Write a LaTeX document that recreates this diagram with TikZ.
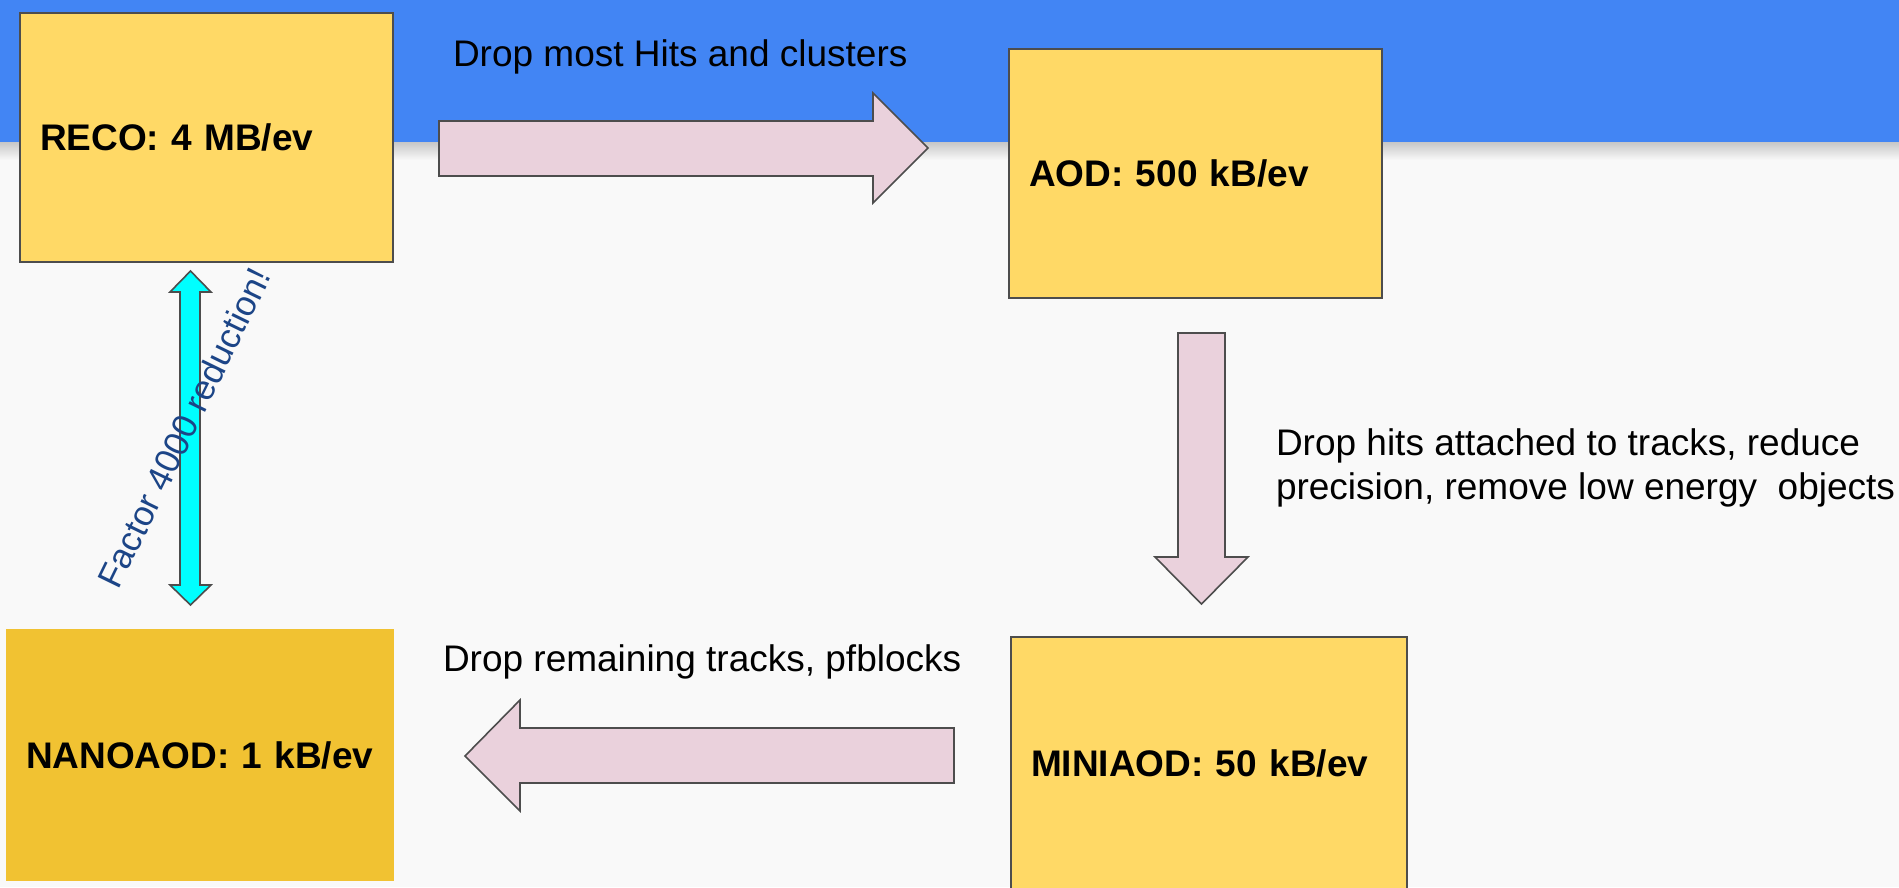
\documentclass[tikz,border=0pt]{standalone}
\usepackage{fontspec}
\setmainfont{Liberation Sans}
\definecolor{bandc}{HTML}{4285F4}
\definecolor{bgc}{HTML}{F9F9F9}
\definecolor{boxy}{HTML}{FFD966}
\definecolor{nanoy}{HTML}{F1C232}
\definecolor{pinkf}{HTML}{EAD1DC}
\definecolor{edgec}{HTML}{4D4D4D}
\definecolor{cyanf}{HTML}{00FFFF}
\definecolor{labblue}{HTML}{1C4587}
\begin{document}
\begin{tikzpicture}[x=1pt,y=-1pt,
  every node/.style={inner sep=0pt,outer sep=0pt},
  labtext/.style={font=\fontsize{37}{44}\selectfont,text=black},
  databox/.style={rectangle,fill=boxy,draw=edgec,line width=1.8pt,
    font=\fontsize{37}{44}\selectfont\bfseries,align=left,
    inner xsep=20pt,text height=26.5pt,text depth=0pt},
  blockarrow/.style={fill=pinkf,draw=edgec,line width=1.6pt,line join=miter},
  cyanarrow/.style={fill=cyanf,draw=edgec,line width=1.6pt,line join=miter}]
\useasboundingbox (0,0) rectangle (1899,887);
% background and title band
\fill[bgc] (0,0) rectangle (1899,887);
\fill[bandc] (0,0) rectangle (1899,142);
\shade[top color=black!22,bottom color=bgc] (0,142) rectangle (1899,160);
% boxes
\node[databox,minimum width=373pt,minimum height=249pt,text width=333pt] (reco) at (206.5,137.5) {RECO: 4 MB/ev};
\node[databox,minimum width=373pt,minimum height=249pt,text width=333pt] (aod) at (1195.5,173.5) {AOD: 500 kB/ev};
\node[databox,minimum width=396pt,minimum height=252pt,text width=356pt] (mini) at (1209,763) {MINIAOD: 50 kB/ev};
\node[databox,draw=none,fill=nanoy,minimum width=388pt,minimum height=252pt,text width=348pt] (nano) at (200,755) {NANOAOD: 1 kB/ev};
% block arrows
\draw[blockarrow] (439,121) -- (873,121) -- (873,93) -- (928,148) -- (873,203) -- (873,176) -- (439,176) -- cycle;
\draw[blockarrow] (1178,333) -- (1225,333) -- (1225,557) -- (1248,557) -- (1201.5,604) -- (1155,557) -- (1178,557) -- cycle;
\draw[blockarrow] (954,728) -- (520,728) -- (520,700) -- (465,756) -- (520,811) -- (520,783) -- (954,783) -- cycle;
\draw[cyanarrow] (180,292) -- (170,292) -- (190.5,271) -- (211,292) -- (200,292) -- (200,585) -- (211,585) -- (190.5,605) -- (170,585) -- (180,585) -- cycle;
% labels
\node[labtext,anchor=base west] (l1) at (453,66) {Drop most Hits and clusters};
\node[labtext,anchor=base west] (l2) at (1276,455) {\begin{tabular}[t]{@{}l@{}}Drop hits attached to tracks, reduce\\precision, remove low energy\ \ objects\end{tabular}};
\node[labtext,anchor=base west] (l3) at (443,671) {Drop remaining tracks, pfblocks};
\node[labtext,font=\fontsize{35}{42}\selectfont,text=labblue,rotate=64] (l4) at (184,428) {Factor 4000 reduction!};
\end{tikzpicture}
\end{document}
